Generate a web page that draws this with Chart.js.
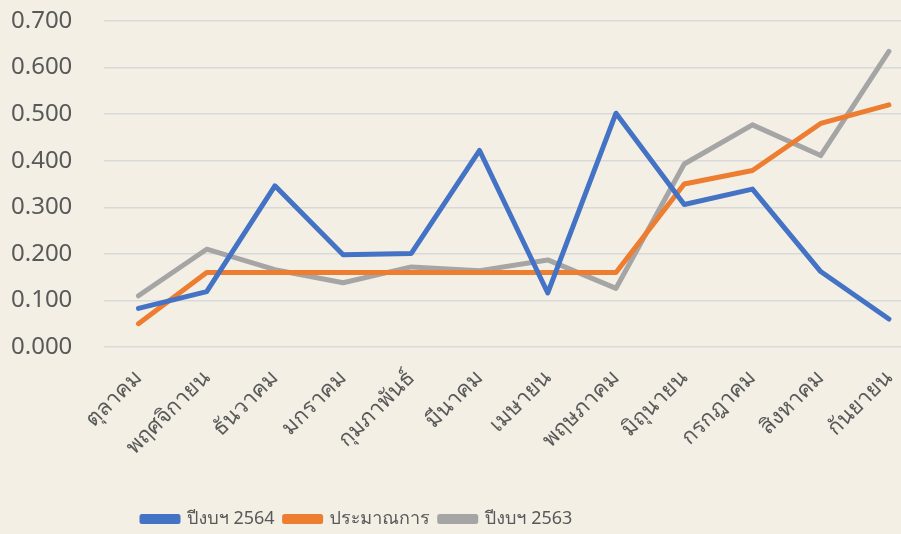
<!DOCTYPE html>
<html lang="th">
<head>
<meta charset="UTF-8">
<title>Monthly chart</title>
<script src="https://cdn.jsdelivr.net/npm/chart.js"></script>
<style>
  html, body { margin: 0; padding: 0; overflow: hidden; background: #f3efe5; }
  /* wider than the window: the original plot runs past the right edge */
  #wrap { width: 925px; height: 534px; }
</style>
</head>
<body>
<div id="wrap"><canvas id="chart"></canvas></div>
<script>
// months (fiscal year order)
const months = ['ตุลาคม', 'พฤศจิกายน', 'ธันวาคม', 'มกราคม', 'กุมภาพันธ์', 'มีนาคม',
                'เมษายน', 'พฤษภาคม', 'มิถุนายน', 'กรกฎาคม', 'สิงหาคม', 'กันยายน'];

const fy2564 = [0.083, 0.119, 0.346, 0.198, 0.201, 0.422, 0.116, 0.502, 0.306, 0.339, 0.162, 0.060];
const estimate = [0.050, 0.160, 0.160, 0.160, 0.160, 0.160, 0.160, 0.160, 0.350, 0.379, 0.480, 0.520];
const fy2563 = [0.110, 0.210, 0.166, 0.138, 0.172, 0.164, 0.187, 0.126, 0.393, 0.477, 0.411, 0.635];

const seriesNames = ['ปีงบฯ 2564', 'ประมาณการ', 'ปีงบฯ 2563'];
const colors = ['#4472c4', '#ed7d31', '#a5a5a5'];

const font = "'Noto Sans', Loma, 'Noto Sans Thai Looped', Garuda, 'Noto Sans Thai', Tahoma, sans-serif";

function makeSet(i, values) {
    return {
        label: seriesNames[i],
        data: values,
        borderColor: colors[i],
        backgroundColor: colors[i],
        borderWidth: 5,
        pointRadius: 0,
        tension: 0,
        borderCapStyle: 'round',
        borderJoinStyle: 'round'
    };
}

// legend sits left of centre in the original
const legendShift = {
    id: 'legendShift',
    afterLayout(chart) {
        chart.legend.left = 132;
        chart.legend.top += 4;
    }
};

new Chart(document.getElementById('chart'), {
    type: 'line',
    data: {
        labels: months,
        datasets: [makeSet(0, fy2564), makeSet(1, estimate), makeSet(2, fy2563)]
    },
    plugins: [legendShift],
    options: {
        responsive: true,
        maintainAspectRatio: false,
        animation: false,
        layout: { padding: { left: -21, top: 21, right: 2, bottom: 0 } },
        plugins: {
            legend: {
                position: 'bottom',
                align: 'start',
                labels: {
                    color: '#595959',
                    font: { family: font, size: 18 },
                    boxWidth: 36,
                    boxHeight: 5,
                    padding: 10
                }
            },
            tooltip: { enabled: false }
        },
        scales: {
            x: {
                offset: true,
                grid: { display: false },
                border: { display: false },
                afterFit: s => {
                    s.height = 149;
                    s.paddingLeft = 0;
                    s.paddingRight = 0;
                },
                ticks: {
                    color: '#595959',
                    font: { family: font, size: 22 },
                    minRotation: 45,
                    maxRotation: 45,
                    padding: 10
                }
            },
            y: {
                min: 0,
                max: 0.7,
                border: { display: false },
                grid: { color: '#d9d9d9', lineWidth: 1.5, drawTicks: false },
                afterFit: s => {
                    s.paddingTop = 0;
                    s.paddingBottom = 0;
                },
                ticks: {
                    stepSize: 0.1,
                    color: '#595959',
                    font: { family: font, size: 24 },
                    padding: 32,
                    callback: v => v.toFixed(3)
                }
            }
        }
    }
});
</script>
</body>
</html>
